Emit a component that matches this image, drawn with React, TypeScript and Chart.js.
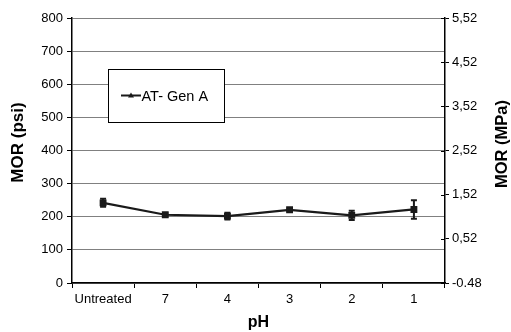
import React, { useEffect, useRef } from "react";
import { Chart, registerables } from "chart.js";

Chart.register(...registerables);

const CATEGORIES = ["Untreated", "7", "4", "3", "2", "1"];
const MOR_PSI = [242, 206, 202, 221, 204, 222];
const ERR_PSI = [12, 5, 10, 4, 14, 28];
const SERIES_LABEL = "AT- Gen A";
const PSI_MIN = 0;
const PSI_MAX = 800;
const PSI_STEP = 100;
const MPA_TICKS = [-0.48, 0.52, 1.52, 2.52, 3.52, 4.52, 5.52];
const MPA_LABELS = ["-0.48", "0,52", "1,52", "2,52", "3,52", "4,52", "5,52"];
const TITLE_X = "pH";
const TITLE_Y_LEFT = "MOR (psi)";
const TITLE_Y_RIGHT = "MOR (MPa)";

const FONT = "'Liberation Sans', Arial, sans-serif";

const errorBarPlugin = {
  id: "errorBars",
  afterDatasetsDraw(chart: any) {
    const ctx = chart.ctx;
    const y = chart.scales.y;
    const meta = chart.getDatasetMeta(0);
    ctx.save();
    ctx.strokeStyle = "#1a1a1a";
    ctx.lineWidth = 2;
    meta.data.forEach((pt: any, i: number) => {
      const x = pt.x;
      const yT = y.getPixelForValue(MOR_PSI[i] + ERR_PSI[i]);
      const yB = y.getPixelForValue(MOR_PSI[i] - ERR_PSI[i]);
      ctx.beginPath();
      ctx.moveTo(x, yT);
      ctx.lineTo(x, yB);
      ctx.moveTo(x - 3, yT);
      ctx.lineTo(x + 3, yT);
      ctx.moveTo(x - 3, yB);
      ctx.lineTo(x + 3, yB);
      ctx.stroke();
    });
    ctx.restore();
  },
};

const crossTickPlugin = {
  id: "crossTicks",
  afterDraw(chart: any) {
    const ctx = chart.ctx;
    const s = chart.scales.y1;
    ctx.save();
    ctx.strokeStyle = "#000";
    ctx.lineWidth = 1;
    MPA_TICKS.forEach((v) => {
      const py = Math.round(s.getPixelForValue(v)) + 0.5;
      ctx.beginPath();
      ctx.moveTo(s.left - 4, py);
      ctx.lineTo(s.left, py);
      ctx.stroke();
    });
    ctx.restore();
  },
};

const axisTitlePlugin = {
  id: "axisTitles",
  afterDraw(chart: any) {
    const ctx = chart.ctx;
    ctx.save();
    ctx.fillStyle = "#000";
    ctx.font = `bold 17px ${FONT}`;
    ctx.textAlign = "center";
    ctx.textBaseline = "middle";
    ctx.translate(18.5, 142.5);
    ctx.rotate(-Math.PI / 2);
    ctx.fillText(TITLE_Y_LEFT, 0, 0);
    ctx.restore();
    ctx.save();
    ctx.fillStyle = "#000";
    ctx.font = `bold 16.5px ${FONT}`;
    ctx.textAlign = "center";
    ctx.textBaseline = "middle";
    ctx.translate(502, 144);
    ctx.rotate(-Math.PI / 2);
    ctx.fillText(TITLE_Y_RIGHT, 0, 0);
    ctx.restore();
  },
};

const legendBoxPlugin = {
  id: "legendBox",
  afterDraw(chart: any) {
    const ctx = chart.ctx;
    const x = 108, yTop = 69, w = 116, h = 53;
    ctx.save();
    ctx.fillStyle = "#fff";
    ctx.fillRect(x, yTop, w, h);
    ctx.strokeStyle = "#000";
    ctx.lineWidth = 1;
    ctx.strokeRect(x + 0.5, yTop + 0.5, w, h);
    const cy = yTop + h / 2;
    ctx.strokeStyle = "#1a1a1a";
    ctx.lineWidth = 2;
    ctx.beginPath();
    ctx.moveTo(121, cy);
    ctx.lineTo(141, cy);
    ctx.stroke();
    ctx.fillStyle = "#1a1a1a";
    ctx.beginPath();
    ctx.moveTo(131, cy - 3);
    ctx.lineTo(134, cy + 2);
    ctx.lineTo(128, cy + 2);
    ctx.closePath();
    ctx.fill();
    ctx.fillStyle = "#000";
    ctx.font = `14.5px ${FONT}`;
    ctx.textBaseline = "middle";
    ctx.fillText(SERIES_LABEL, 141.5, cy + 1);
    ctx.restore();
  },
};

export default function App() {
  const ref = useRef<HTMLCanvasElement>(null);
  useEffect(() => {
    document.body.style.margin = "0";
    const chart = new Chart(ref.current as HTMLCanvasElement, {
      type: "line",
      data: {
        labels: CATEGORIES,
        datasets: [
          {
            label: SERIES_LABEL,
            data: MOR_PSI,
            borderColor: "#1a1a1a",
            backgroundColor: "#1a1a1a",
            borderWidth: 2.2,
            pointStyle: "rect",
            pointRadius: 3.3,
            yAxisID: "y",
          },
        ],
      },
      options: {
        animation: false,
        responsive: false,
        devicePixelRatio: 1,
        layout: { padding: { top: 18, left: 0, right: 0, bottom: 0 } },
        plugins: { legend: { display: false }, tooltip: { enabled: false } },
        scales: {
          x: {
            type: "category",
            offset: true,
            grid: { offset: true, drawOnChartArea: false, tickLength: 5, tickColor: "#000" },
            border: { color: "#000", width: 1.5 },
            ticks: { color: "#000", font: { family: FONT, size: 13 }, padding: 4, maxRotation: 0 },
            title: { display: true, text: TITLE_X, color: "#000", font: { family: FONT, size: 16, weight: "bold" }, padding: { top: 3, bottom: 0 } },
            afterFit(s: any) { s.height = 49; },
          },
          y: {
            position: "left",
            min: PSI_MIN,
            max: PSI_MAX,
            ticks: { stepSize: PSI_STEP, color: "#000", font: { family: FONT, size: 13 }, padding: 4 },
            grid: { color: "#808080", lineWidth: 1, tickLength: 5, tickColor: "#000" },
            border: { color: "#000", width: 1.5 },
            title: { display: false },
            afterFit(s: any) { s.width = 72; },
          },
          y1: {
            position: "right",
            min: MPA_TICKS[0],
            max: MPA_TICKS[MPA_TICKS.length - 1],
            afterBuildTicks(s: any) { s.ticks = MPA_TICKS.map((v) => ({ value: v })); },
            ticks: {
              color: "#000",
              font: { family: FONT, size: 13 },
              padding: 3,
              callback: (_v: any, i: number) => MPA_LABELS[i],
            },
            grid: { drawOnChartArea: false, tickLength: 4, tickColor: "#000" },
            border: { color: "#000", width: 1.5 },
            title: { display: false },
            afterFit(s: any) { s.width = 66; },
          },
        },
      } as any,
      plugins: [errorBarPlugin, crossTickPlugin, axisTitlePlugin, legendBoxPlugin],
    });
    return () => chart.destroy();
  }, []);
  return (
    <div style={{ width: 511, height: 332 }}>
      <canvas ref={ref} width={511} height={332} style={{ width: 511, height: 332 }} />
    </div>
  );
}
